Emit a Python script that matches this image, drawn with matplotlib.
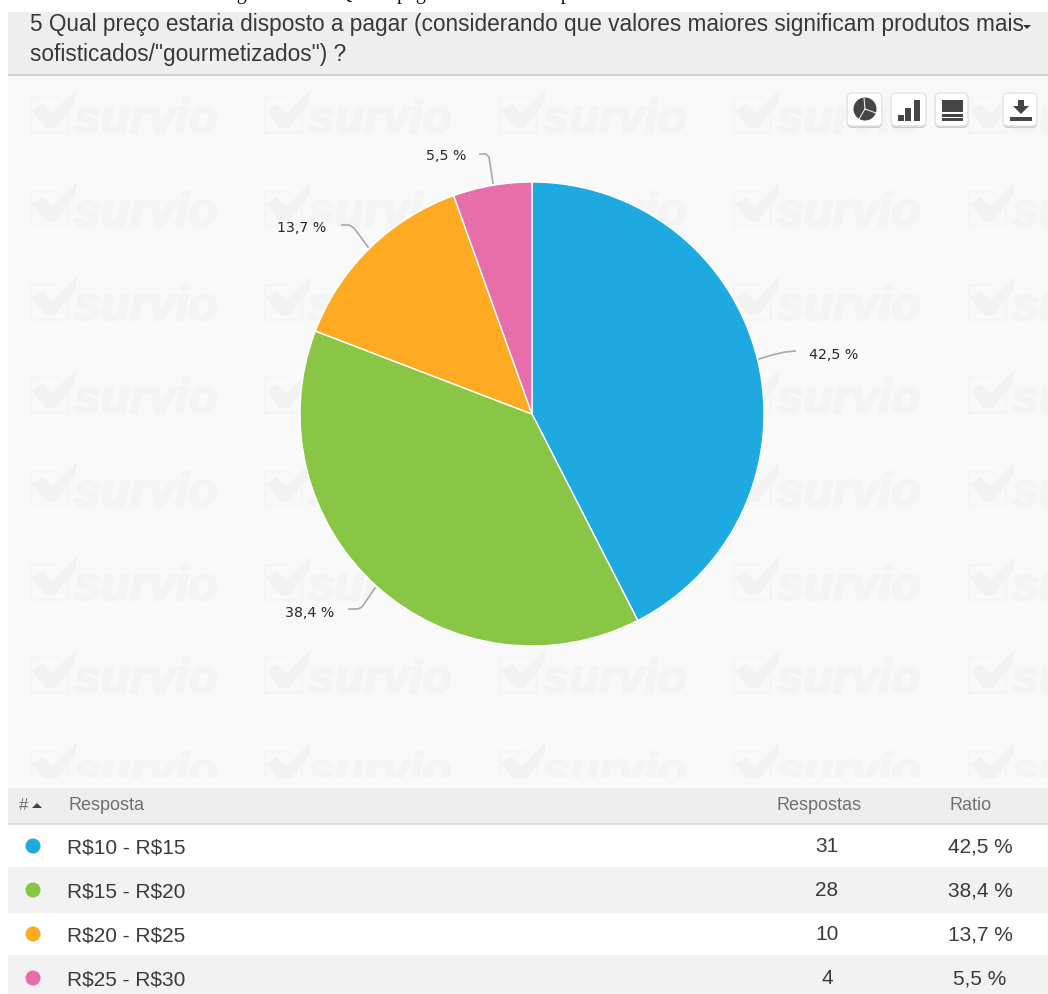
import matplotlib
matplotlib.use("Agg")
import matplotlib.pyplot as plt
import matplotlib.patheffects as pe
from matplotlib.patches import Rectangle, FancyBboxPatch, Circle, Polygon

W, H = 1048, 994

caption = 'Figura 13   –   Qual o pagamento máximo para'
question = ['5 Qual preço estaria disposto a pagar (considerando que valores maiores significam produtos mais',
            'sofisticados/"gourmetizados") ?']
categories = ['R$10 - R$15', 'R$15 - R$20', 'R$20 - R$25', 'R$25 - R$30']
responses = [31, 28, 10, 4]
ratios = ['42,5 %', '38,4 %', '13,7 %', '5,5 %']
colors = ['#1EA9E1', '#89C646', '#FEAA22', '#E86EAB']
col_headers = ['#', 'Resposta', 'Respostas', 'Ratio']

plt.rcParams['font.family'] = ['Liberation Sans', 'DejaVu Sans']
plt.rcParams['text.parse_math'] = False
fig = plt.figure(figsize=(W / 100, H / 100), dpi=100, facecolor='white')
bg = fig.add_axes([0, 0, 1, 1])
bg.set_xlim(0, W)
bg.set_ylim(H, 0)
bg.axis('off')
bg.set_zorder(1)

# panels
bg.add_patch(Rectangle((8, 12), W - 8, 62, fc='#EEEEEE', ec='none'))
bg.add_patch(Rectangle((8, 73.5), W - 8, 2.5, fc='#D2D2D2', ec='none'))
bg.add_patch(Rectangle((8, 76), W - 8, 712, fc='#F9F9F9', ec='none'))

# caption cropped by the top edge: only descenders remain
bg.text(220, -1, caption, family='Liberation Serif', fontsize=14.5,
        color='#111111', va='baseline', ha='left')

# watermark
wm = '#F4F4F4'
for yc in [117, 210, 304, 397, 490, 584, 677, 770]:
    for xo in [30, 264, 499, 733, 968]:
        bg.text(xo + 44, yc + 16, 'survio', fontsize=34.5, weight='bold', style='italic',
                color=wm, va='baseline', ha='left', zorder=1,
                path_effects=[pe.withStroke(linewidth=1.6, foreground=wm)])
        bg.plot([xo + 26, xo + 1, xo + 1, xo + 38, xo + 38],
                [yc - 19, yc - 19, yc + 16, yc + 16, yc - 4],
                color='#F5F5F5', lw=1.5, zorder=1, solid_joinstyle='miter')
        bg.fill([xo + 2, xo + 13, xo + 22, xo + 47, xo + 45, xo + 25, xo + 16],
                [yc - 6, yc - 13, yc - 3, yc - 28, yc - 14, yc + 11, yc + 11],
                color='#F2F2F2', lw=0, zorder=1)
bg.add_patch(Rectangle((8, 778), W - 8, 10, fc='#F9F9F9', ec='none', zorder=1.2))

# question text
title_kw = dict(fontsize=16.3, color='#383838', va='center', ha='left', zorder=3)
bg.text(30, 24, question[0], **title_kw)
bg.text(30, 54, question[1], **title_kw)
bg.add_patch(Polygon([[1023, 25], [1031, 25], [1027, 29]], fc='#333333', ec='none', zorder=3))

# toolbar buttons
for x0, w0 in [(847, 35), (891, 35), (935, 33), (1003, 34)]:
    bg.add_patch(FancyBboxPatch((x0, 95), w0, 33, boxstyle='round,pad=0,rounding_size=5',
                                fc='#CDCDCD', ec='none', zorder=3))
    bg.add_patch(FancyBboxPatch((x0, 93), w0, 33, boxstyle='round,pad=0,rounding_size=5',
                                fc='white', ec='#E2E2E2', lw=1, zorder=3.1))
ic = '#454545'
bg.add_patch(Circle((865, 109), 11.5, fc=ic, ec='none', zorder=4))
bg.plot([865, 864], [109, 98], color='white', lw=0.7, zorder=4.1)
bg.plot([865, 876], [109, 113], color='white', lw=0.7, zorder=4.1)
bg.plot([865, 859], [109, 119], color='white', lw=0.7, zorder=4.1)
for dx, top in [(898, 115), (905, 108), (914, 100)]:
    bg.add_patch(Rectangle((dx, top), 5.5, 120.5 - top, fc=ic, ec='none', zorder=4))
for top, h in [(100, 12), (114, 3), (118, 3)]:
    bg.add_patch(Rectangle((942, top), 21, h, fc=ic, ec='none', zorder=4))
bg.add_patch(Polygon([[1018, 100], [1024, 100], [1024, 106], [1029, 106], [1021, 114], [1013, 106], [1018, 106]],
                     fc=ic, ec='none', zorder=4))
bg.add_patch(Rectangle((1010, 117), 22, 3.5, fc=ic, ec='none', zorder=4))

# pie
cx, cy, r = 532, 414, 232
pie_ax = fig.add_axes([(cx - r - 2) / W, 1 - (cy + r + 2) / H, (2 * r + 4) / W, (2 * r + 4) / H])
pie_ax.pie(responses, colors=colors, startangle=90, counterclock=False, radius=1,
           wedgeprops=dict(edgecolor='white', linewidth=1.0))
pie_ax.set_xlim(-(r + 2) / r, (r + 2) / r)
pie_ax.set_ylim(-(r + 2) / r, (r + 2) / r)
pie_ax.set_zorder(2)
pie_ax.patch.set_alpha(0)

# table and pie labels, above the pie
over = fig.add_axes([0, 0, 1, 1])
over.set_xlim(0, W)
over.set_ylim(H, 0)
over.axis('off')
over.patch.set_alpha(0)
over.set_zorder(3)

lab_kw = dict(family='DejaVu Sans', fontsize=10.2, color='#26262E', va='center', ha='center')
over.text(834, 355, ratios[0], **lab_kw)
over.text(310, 613, ratios[1], **lab_kw)
over.text(302, 228, ratios[2], **lab_kw)
over.text(446, 156, ratios[3], **lab_kw)
lead = dict(color='#A8A8A8', lw=1.2)
over.plot([759, 772, 785, 795], [359, 355, 352, 351], **lead)
over.plot([349, 358, 362, 375], [609, 609, 607, 588], **lead)
over.plot([342, 349, 354, 368], [225, 225, 228, 247], **lead)
over.plot([480, 486, 489, 493], [154, 154, 157, 183], **lead)

over.add_patch(Rectangle((8, 788), W - 8, 35, fc='#EEEEEE', ec='none'))
over.add_patch(Rectangle((8, 823), W - 8, 2, fc='#DDDDDD', ec='none'))
row_tops = [825, 867, 913, 955]
row_bots = [867, 913, 955, 994]
row_fc = ['white', '#F2F2F2', 'white', '#F2F2F2']
row_y = [846, 890, 934, 978]
head_c = '#707070'
over.text(19, 805.5, col_headers[0], fontsize=12, color=head_c, va='center')
over.add_patch(Polygon([[32, 808], [42, 808], [37, 803]], fc='#444444', ec='none'))
over.text(68, 805.5, col_headers[1], fontsize=13, color=head_c, va='center')
over.text(819, 805.5, col_headers[2], fontsize=13, color=head_c, va='center', ha='center')
over.text(971, 805.5, col_headers[3], fontsize=13, color=head_c, va='center', ha='center')
cell_kw = dict(fontsize=15, color='#3A3A3A', va='center')
for i, cat in enumerate(categories):
    over.add_patch(Rectangle((8, row_tops[i]), W - 8, row_bots[i] - row_tops[i], fc=row_fc[i], ec='none'))
    over.add_patch(Circle((33, row_y[i]), 7.5, fc=colors[i], ec='none'))
    over.text(67, row_y[i] + 2, cat, ha='left', **cell_kw)
    over.text(827, row_y[i] + 1, str(responses[i]), ha='center', **cell_kw)
    over.text(980, row_y[i] + 1, ratios[i], ha='center', **cell_kw)

fig.savefig('out.png', dpi=100, facecolor='white')
